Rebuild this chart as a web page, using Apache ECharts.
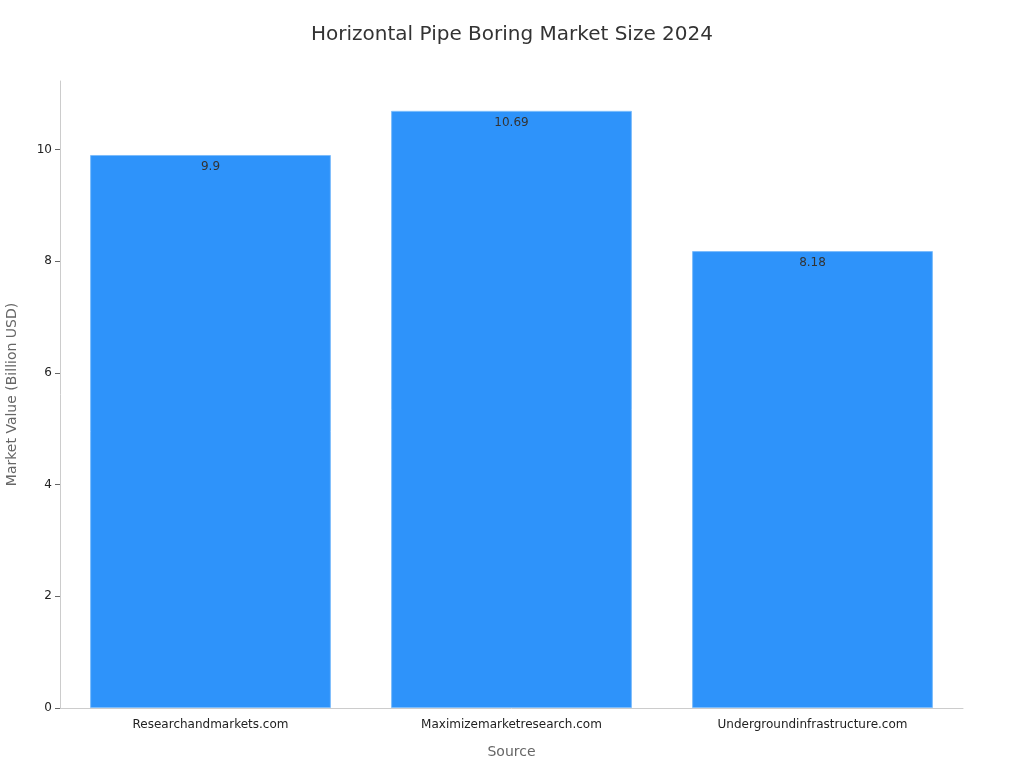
<!DOCTYPE html>
<html><head><meta charset="utf-8">
<script src="https://cdn.jsdelivr.net/npm/echarts@6/dist/echarts.min.js"></script>
<style>html,body{margin:0;padding:0;background:#fff}#c{width:1024px;height:768px}</style>
</head><body><div id="c"></div>
<script>
const categories = ["Researchandmarkets.com", "Maximizemarketresearch.com", "Undergroundinfrastructure.com"];
const values = [9.9, 10.69, 8.18];
const chart = echarts.init(document.getElementById('c'));
const font = 'DejaVu Sans';
chart.setOption({
  animation: false,
  textStyle: { fontFamily: font },
  title: { text: 'Horizontal Pipe Boring Market Size 2024', left: 'center', top: 20,
    textStyle: { fontFamily: font, fontSize: 20, fontWeight: 'normal', color: '#333' } },
  grid: { left: 60, right: 61, top: 81, bottom: 60, containLabel: false, outerBoundsMode: 'none' },
  xAxis: { type: 'category', data: categories, name: 'Source', nameLocation: 'middle', nameGap: 37,
    nameTextStyle: { fontFamily: font, fontSize: 14, color: '#666' },
    axisLine: { lineStyle: { color: '#ccc' } },
    axisTick: { alignWithLabel: true, lineStyle: { color: '#666' } },
    axisLabel: { fontFamily: font, fontSize: 12, color: '#222', margin: 11 } },
  yAxis: { type: 'value', min: 0, max: 11.2245, interval: 2, name: 'Market Value (Billion USD)',
    nameLocation: 'middle', nameGap: 41, nameTextStyle: { fontFamily: font, fontSize: 14, color: '#666' },
    axisLine: { show: true, lineStyle: { color: '#ccc' } },
    axisTick: { show: true, lineStyle: { color: '#666' } },
    splitLine: { show: false },
    axisLabel: { fontFamily: font, fontSize: 12, color: '#222', showMaxLabel: false,
      formatter: v => (Math.abs(v - Math.round(v)) < 1e-6 ? String(Math.round(v)) : '') } },
  series: [{ type: 'bar', data: values, barWidth: '80%',
    itemStyle: { color: '#2E93FA', borderColor: '#7dbdfc', borderWidth: 1 },
    label: { show: true, position: 'insideTop', distance: 6, fontFamily: font, fontSize: 12, color: '#333' } }]
});
</script></body></html>
